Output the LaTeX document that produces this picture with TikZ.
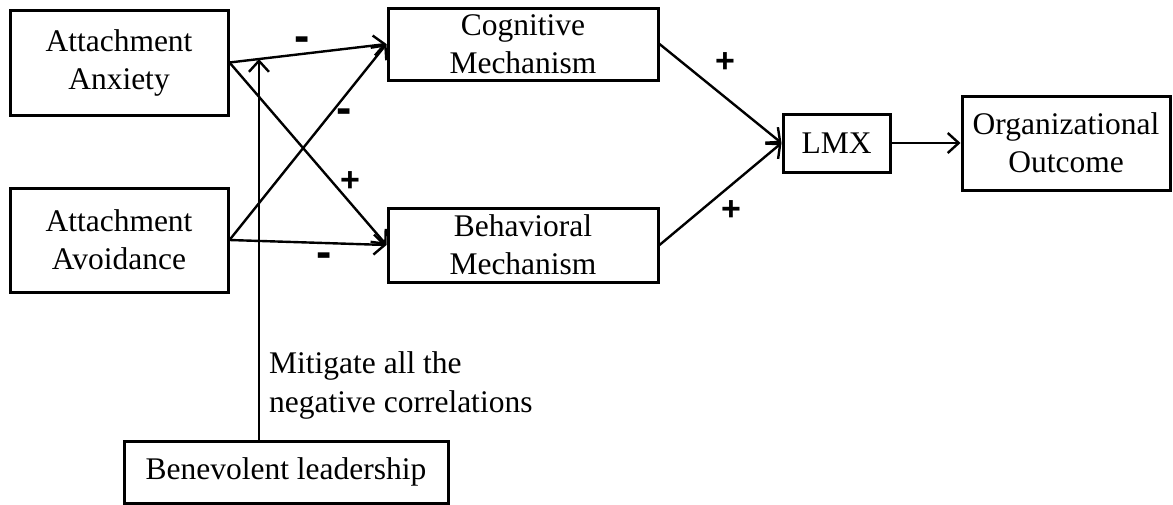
\documentclass[tikz,border=0pt]{standalone}
\usepackage{fontspec}
\setmainfont{Liberation Serif}
\setsansfont{Liberation Sans}
\usetikzlibrary{arrows.meta,calc}
\tikzset{
  box/.style={draw, line width=3pt, inner sep=0pt, align=center,
    font=\fontsize{31.5}{38}\selectfont},
  conn/.style={line width=2.4pt, -{Straight Barb[length=11pt,width=20pt,line width=2.4pt]}},
  minus/.style={inner sep=0pt, font=\sffamily\bfseries\fontsize{46}{46}\selectfont},
  plus/.style={inner sep=0pt, font=\sffamily\bfseries\fontsize{34}{34}\selectfont},
  note/.style={inner sep=0pt, align=left, anchor=north west, font=\fontsize{31.5}{39}\selectfont}
}
\begin{document}
\begin{tikzpicture}[x=1pt,y=-1pt]
\useasboundingbox (0,0) rectangle (1173,504);
\node[box, minimum width=218pt, minimum height=105pt] (anx) at (119,62.5) {Attachment\\Anxiety};
\node[box, minimum width=218pt, minimum height=104pt] (avo) at (119,240) {Attachment\\Avoidance};
\node[box, minimum width=270pt, minimum height=72pt] (cog) at (523,44) {Cognitive\\Mechanism};
\node[box, minimum width=270pt, minimum height=74pt] (beh) at (523,245) {Behavioral\\Mechanism};
\node[box, minimum width=107pt, minimum height=58pt] (lmx) at (836.5,143) {LMX};
\node[box, minimum width=208pt, minimum height=94pt] (out) at (1066,143) {Organizational\\Outcome};
\node[box, minimum width=324pt, minimum height=62pt] (ben) at (286,472) {Benevolent leadership};

\draw[conn] (anx.east) -- (cog.west);
\draw[conn] (anx.east) -- (beh.west);
\draw[conn] (avo.east) -- (cog.west);
\draw[conn] (avo.east) -- (beh.west);
\draw[conn] (cog.east) -- (lmx.west);
\draw[conn] (beh.east) -- (lmx.west);
\draw[conn] (lmx.east) -- (out.west);

\coordinate (m) at ($(anx.east)!0.1875!(cog.west)$);
\draw[conn] (m |- ben.north) -- (m);

\node[minus] (s1) at (302,44) {-};
\node[minus] (s2) at (344,116) {-};
\node[plus] (s3) at (350,182) {+};
\node[minus] (s4) at (324,260) {-};
\node[plus] (s5) at (725,63) {+};
\node[plus] (s6) at (731,211) {+};

\node[note] (txt) at (269,351) {Mitigate all the\\negative correlations};
\end{tikzpicture}
\end{document}
